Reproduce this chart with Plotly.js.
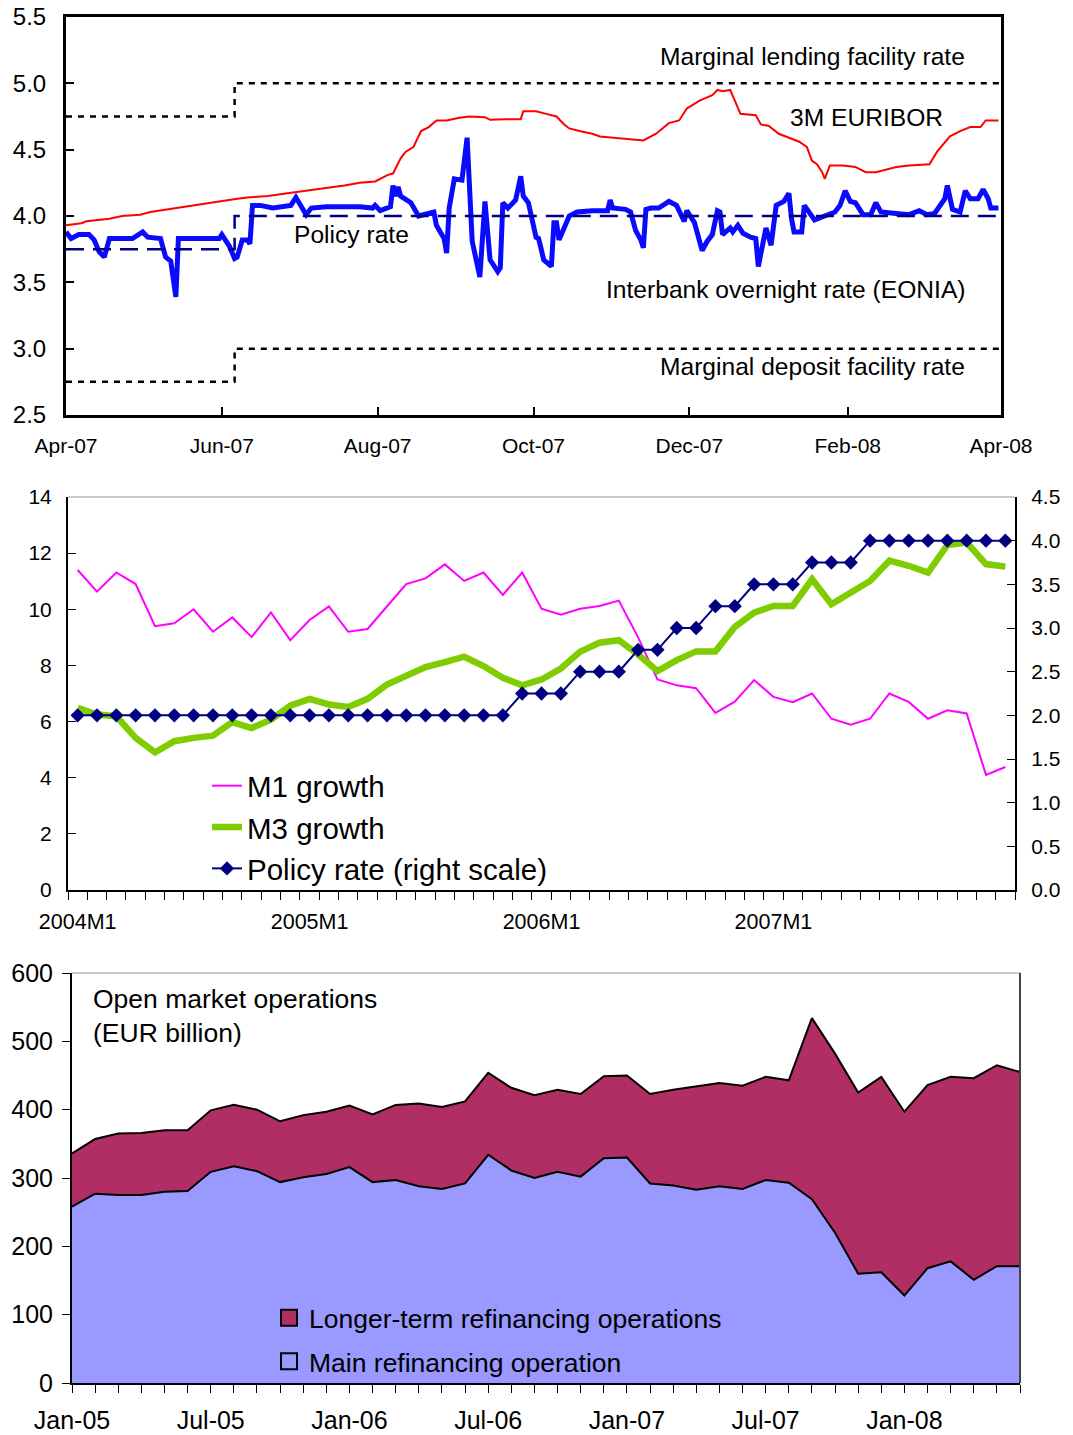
<!DOCTYPE html>
<html><head><meta charset="utf-8">
<script src="https://cdn.plot.ly/plotly-3.0.1.min.js"></script>
<style>html,body{margin:0;padding:0;background:#fff;} #chart{width:1073px;height:1435px;}</style>
</head><body><div id="chart"></div>
<script>
// ---------- Panel 1: daily rates Apr-07 .. Apr-08 ----------
const rateStepDates = ["2007-04-01", "2007-06-06", "2008-04-01"];
const marginalLending = [4.75, 5.00, 5.00];
const marginalDeposit = [2.75, 3.00, 3.00];
const policyRate = [3.75, 4.00, 4.00];

const euriborDates = ["2007-04-01","2007-04-07","2007-04-09","2007-04-13","2007-04-18","2007-04-23","2007-04-30","2007-05-04","2007-05-09","2007-05-14","2007-05-21","2007-05-27","2007-06-02","2007-06-07","2007-06-11","2007-06-19","2007-06-26","2007-07-03","2007-07-11","2007-07-19","2007-07-25","2007-07-31","2007-08-02","2007-08-05","2007-08-07","2007-08-10","2007-08-12","2007-08-15","2007-08-18","2007-08-21","2007-08-24","2007-08-28","2007-09-02","2007-09-06","2007-09-12","2007-09-14","2007-09-20","2007-09-26","2007-09-27","2007-10-02","2007-10-06","2007-10-10","2007-10-13","2007-10-15","2007-10-19","2007-10-24","2007-10-27","2007-11-01","2007-11-08","2007-11-13","2007-11-18","2007-11-23","2007-11-27","2007-11-30","2007-12-05","2007-12-10","2007-12-12","2007-12-14","2007-12-17","2007-12-20","2007-12-21","2007-12-27","2007-12-29","2008-01-01","2008-01-05","2008-01-09","2008-01-13","2008-01-16","2008-01-18","2008-01-20","2008-01-22","2008-01-23","2008-01-25","2008-01-30","2008-02-04","2008-02-08","2008-02-12","2008-02-20","2008-02-25","2008-03-04","2008-03-07","2008-03-12","2008-03-16","2008-03-20","2008-03-24","2008-03-26","2008-03-31"];
const euribor = [3.93,3.945,3.96,3.97,3.98,4.00,4.01,4.03,4.045,4.06,4.08,4.10,4.12,4.13,4.14,4.15,4.17,4.19,4.21,4.23,4.25,4.26,4.28,4.31,4.32,4.435,4.485,4.52,4.64,4.67,4.72,4.72,4.74,4.75,4.745,4.725,4.73,4.73,4.79,4.79,4.77,4.75,4.69,4.66,4.64,4.62,4.60,4.59,4.58,4.57,4.62,4.70,4.72,4.81,4.87,4.91,4.95,4.94,4.95,4.81,4.77,4.76,4.69,4.68,4.62,4.59,4.56,4.52,4.415,4.39,4.33,4.28,4.38,4.38,4.37,4.33,4.33,4.37,4.38,4.39,4.485,4.60,4.64,4.67,4.67,4.72,4.72];

const eoniaDates = ["2007-04-01","2007-04-03","2007-04-06","2007-04-10","2007-04-12","2007-04-14","2007-04-16","2007-04-18","2007-04-27","2007-05-01","2007-05-03","2007-05-08","2007-05-10","2007-05-12","2007-05-14","2007-05-15","2007-05-21","2007-05-31","2007-06-01","2007-06-04","2007-06-06","2007-06-07","2007-06-09","2007-06-11","2007-06-12","2007-06-13","2007-06-16","2007-06-21","2007-06-28","2007-06-30","2007-07-04","2007-07-06","2007-07-12","2007-07-25","2007-07-30","2007-07-31","2007-08-02","2007-08-06","2007-08-07","2007-08-08","2007-08-09","2007-08-10","2007-08-14","2007-08-17","2007-08-23","2007-08-24","2007-08-27","2007-08-28","2007-08-29","2007-08-31","2007-09-03","2007-09-05","2007-09-07","2007-09-10","2007-09-12","2007-09-14","2007-09-17","2007-09-18","2007-09-19","2007-09-21","2007-09-24","2007-09-26","2007-09-27","2007-09-29","2007-10-02","2007-10-03","2007-10-05","2007-10-08","2007-10-09","2007-10-10","2007-10-11","2007-10-15","2007-10-18","2007-10-24","2007-10-30","2007-10-31","2007-11-01","2007-11-06","2007-11-08","2007-11-10","2007-11-12","2007-11-13","2007-11-14","2007-11-16","2007-11-19","2007-11-23","2007-11-26","2007-11-29","2007-11-30","2007-12-03","2007-12-06","2007-12-08","2007-12-10","2007-12-12","2007-12-13","2007-12-14","2007-12-17","2007-12-18","2007-12-20","2007-12-22","2007-12-25","2007-12-27","2007-12-28","2007-12-31","2008-01-02","2008-01-04","2008-01-07","2008-01-09","2008-01-10","2008-01-11","2008-01-14","2008-01-15","2008-01-19","2008-01-23","2008-01-27","2008-01-29","2008-01-31","2008-02-02","2008-02-04","2008-02-07","2008-02-10","2008-02-12","2008-02-14","2008-02-19","2008-02-25","2008-02-29","2008-03-03","2008-03-06","2008-03-10","2008-03-11","2008-03-13","2008-03-16","2008-03-18","2008-03-20","2008-03-23","2008-03-25","2008-03-27","2008-03-28","2008-03-31"];
const eonia = [3.88,3.83,3.86,3.86,3.82,3.73,3.69,3.83,3.83,3.88,3.84,3.83,3.69,3.66,3.39,3.83,3.83,3.83,3.86,3.77,3.68,3.69,3.82,3.82,3.79,4.08,4.08,4.06,4.08,4.14,4.01,4.06,4.07,4.07,4.06,4.08,4.04,4.07,4.23,4.15,4.22,4.15,4.10,4.00,4.03,3.93,3.83,3.72,4.06,4.28,4.27,4.59,3.81,3.54,4.11,3.67,3.58,3.61,4.10,4.06,4.12,4.30,4.15,4.10,3.84,3.83,3.67,3.62,3.95,3.95,3.82,4.00,4.03,4.04,4.04,4.12,4.06,4.05,4.03,3.89,3.82,3.76,4.05,4.06,4.06,4.11,4.08,3.96,4.04,3.95,3.74,3.81,3.86,4.04,4.03,3.86,3.91,3.88,3.93,3.87,3.84,3.83,3.62,3.91,3.78,4.08,4.11,4.17,3.98,3.88,3.88,4.08,3.97,4.00,4.03,4.08,4.19,4.11,4.10,4.01,4.01,4.10,4.03,4.02,4.01,4.04,4.01,4.02,4.13,4.23,4.05,4.03,4.19,4.13,4.13,4.20,4.13,4.06,4.06];

// ---------- Panel 2: monthly money growth ----------
const months = ["2004M1","2004M2","2004M3","2004M4","2004M5","2004M6","2004M7","2004M8","2004M9","2004M10","2004M11","2004M12",
"2005M1","2005M2","2005M3","2005M4","2005M5","2005M6","2005M7","2005M8","2005M9","2005M10","2005M11","2005M12",
"2006M1","2006M2","2006M3","2006M4","2006M5","2006M6","2006M7","2006M8","2006M9","2006M10","2006M11","2006M12",
"2007M1","2007M2","2007M3","2007M4","2007M5","2007M6","2007M7","2007M8","2007M9","2007M10","2007M11","2007M12","2008M1"];
const monthTickLabels = ["2004M1","2005M1","2006M1","2007M1"];
const m1Growth = [11.40,10.63,11.31,10.90,9.40,9.50,10.00,9.20,9.71,9.01,9.89,8.90,9.62,10.10,9.20,9.30,10.10,10.90,11.10,11.60,11.01,11.31,10.51,11.31,10.02,9.81,10.02,10.12,10.31,9.00,7.50,7.29,7.19,6.31,6.71,7.48,6.88,6.69,7.00,6.10,5.89,6.10,7.00,6.70,6.10,6.40,6.29,4.10,4.38];
const m3Growth = [6.49,6.25,6.19,5.42,4.90,5.30,5.42,5.50,5.98,5.77,6.07,6.57,6.81,6.61,6.52,6.81,7.32,7.62,7.94,8.12,8.31,7.98,7.56,7.29,7.50,7.89,8.49,8.81,8.90,8.39,7.80,8.19,8.50,8.50,9.37,9.88,10.12,10.12,11.07,10.18,10.60,11.01,11.73,11.55,11.31,12.29,12.38,11.61,11.52];
const policyMonthly = [2.00,2.00,2.00,2.00,2.00,2.00,2.00,2.00,2.00,2.00,2.00,2.00,2.00,2.00,2.00,2.00,2.00,2.00,2.00,2.00,2.00,2.00,2.00,2.25,2.25,2.25,2.50,2.50,2.50,2.75,2.75,3.00,3.00,3.25,3.25,3.50,3.50,3.50,3.75,3.75,3.75,4.00,4.00,4.00,4.00,4.00,4.00,4.00,4.00];

// ---------- Panel 3: open market operations ----------
const omoMonths = ["Jan-05","Feb-05","Mar-05","Apr-05","May-05","Jun-05","Jul-05","Aug-05","Sep-05","Oct-05","Nov-05","Dec-05",
"Jan-06","Feb-06","Mar-06","Apr-06","May-06","Jun-06","Jul-06","Aug-06","Sep-06","Oct-06","Nov-06","Dec-06",
"Jan-07","Feb-07","Mar-07","Apr-07","May-07","Jun-07","Jul-07","Aug-07","Sep-07","Oct-07","Nov-07","Dec-07",
"Jan-08","Feb-08","Mar-08","Apr-08","May-08","Jun-08"];
const omoTickLabels = ["Jan-05","Jul-05","Jan-06","Jul-06","Jan-07","Jul-07","Jan-08"];
const mainRefi = [258,277,275,275,280,281,309,317,310,294,301,306,316,294,297,288,284,292,334,311,300,309,302,329,330,292,289,283,288,284,297,293,269,220,160,162,128,168,178,151,171,171];
const longerRefi = [78,80,90,91,90,89,90,90,90,89,91,91,90,99,110,121,120,120,120,121,121,120,121,120,120,131,140,151,151,151,151,150,265,262,265,286,269,268,270,295,294,284];

// ---------- layout helpers (pixel geometry) ----------
const W = 1073, H = 1435;
const fx = p => p / W;
const fy = p => 1 - p / H;
const FONT = "Arial, 'Liberation Sans', sans-serif";

const traces = [
  {x: rateStepDates, y: marginalLending, xaxis:'x', yaxis:'y', mode:'lines', line:{shape:'hv', color:'#000', width:2.5, dash:'6px,6px'}, showlegend:false},
  {x: rateStepDates, y: marginalDeposit, xaxis:'x', yaxis:'y', mode:'lines', line:{shape:'hv', color:'#000', width:2.5, dash:'6px,6px'}, showlegend:false},
  {x: euriborDates, y: euribor, xaxis:'x', yaxis:'y', mode:'lines', line:{color:'#FF0000', width:2}, showlegend:false},
  {x: eoniaDates, y: eonia, xaxis:'x', yaxis:'y', mode:'lines', line:{color:'#0A0AFF', width:5}, showlegend:false},
  {x: rateStepDates, y: policyRate, xaxis:'x', yaxis:'y', mode:'lines', line:{shape:'hv', color:'#000080', width:2.5, dash:'18px,9px'}, showlegend:false},

  {x: months, y: m1Growth, xaxis:'x2', yaxis:'y2', mode:'lines', name:'M1 growth', line:{color:'#FF00FF', width:2}, legend:'legend2'},
  {x: months, y: m3Growth, xaxis:'x2', yaxis:'y2', mode:'lines', name:'M3 growth', line:{color:'#7FCC00', width:6.5}, legend:'legend2'},
  {x: months, y: policyMonthly, xaxis:'x2', yaxis:'y3', mode:'lines+markers', name:'Policy rate (right scale)', line:{color:'#000080', width:2}, marker:{symbol:'diamond', size:11, color:'#000080'}, legend:'legend2'},

  {x: omoMonths, y: mainRefi, xaxis:'x3', yaxis:'y4', mode:'lines', stackgroup:'omo', line:{color:'#000', width:2}, fillcolor:'#9999FF', showlegend:false},
  {x: omoMonths, y: longerRefi, xaxis:'x3', yaxis:'y4', mode:'lines', stackgroup:'omo', line:{color:'#000', width:2}, fillcolor:'#B02E63', showlegend:false},
  {x: [null], y: [null], xaxis:'x3', yaxis:'y4', mode:'markers', name:'Longer-term refinancing operations', marker:{symbol:'square', size:16, color:'#B02E63', line:{color:'#000', width:2}}, legend:'legend3', legendgroup:'a'},
  {x: [null], y: [null], xaxis:'x3', yaxis:'y4', mode:'markers', name:'Main refinancing operation', marker:{symbol:'square', size:16, color:'#9999FF', line:{color:'#000', width:2}}, legend:'legend3', legendgroup:'b'}
];

const tickFont = s => ({family: FONT, size: s, color: '#000'});

const layout = {
  width: W, height: H,
  margin: {l:0, r:0, t:0, b:0},
  paper_bgcolor: '#fff', plot_bgcolor: 'rgba(0,0,0,0)',
  font: {family: FONT, color:'#000'},
  showlegend: true,
  // Panel 1
  xaxis: {domain:[fx(66), fx(1001)], anchor:'y', type:'date', range:['2007-04-01','2008-04-01'],
    tickmode:'linear', tick0:'2007-04-01', dtick:'M2', tickformat:'%b-%y',
    ticks:'inside', ticklen:8, tickwidth:2, tickcolor:'#000',
    showline:true, linewidth:3, linecolor:'#000', mirror:true, showgrid:false, zeroline:false,
    tickfont: tickFont(21), ticklabelstandoff: 10},
  yaxis: {domain:[fy(415), fy(17)], anchor:'x', range:[2.5,5.5], dtick:0.5, tick0:2.5, tickformat:'.1f',
    ticks:'inside', ticklen:8, tickwidth:2, tickcolor:'#000',
    showline:true, linewidth:3, linecolor:'#000', mirror:true, showgrid:false, zeroline:false,
    tickfont: tickFont(24), ticklabelstandoff: 12},
  // Panel 2
  xaxis2: {domain:[fx(68), fx(1015)], anchor:'y2', type:'category', categoryarray: months,
    range:[-0.5, 48.5], tickmode:'array', tickvals: months,
    ticktext: months.map(m => monthTickLabels.includes(m) ? m : ''), tickangle:0,
    tickson:'boundaries', ticks:'outside', ticklen:8, tickwidth:1, tickcolor:'#000',
    showline:true, linewidth:2, linecolor:'#000', showgrid:false, zeroline:false,
    tickfont: tickFont(21.5), ticklabelstandoff: 11},
  yaxis2: {domain:[fy(890), fy(497)], anchor:'x2', range:[0,14], dtick:2, tick0:0,
    ticks:'inside', ticklen:8, tickwidth:1, tickcolor:'#000',
    showline:true, linewidth:2, linecolor:'#000', showgrid:false, zeroline:false,
    tickfont: tickFont(21), ticklabelstandoff: 10},
  yaxis3: {overlaying:'y2', side:'right', anchor:'x2', range:[0,4.5], dtick:0.5, tick0:0, tickformat:'.1f',
    ticks:'inside', ticklen:8, tickwidth:1, tickcolor:'#000',
    showline:true, linewidth:2, linecolor:'#000', showgrid:false, zeroline:false,
    tickfont: tickFont(21), ticklabelstandoff: 10},
  // Panel 3
  xaxis3: {domain:[fx(72), fx(1020)], anchor:'y4', type:'category', categoryarray: omoMonths,
    range:[0, 41], tickmode:'array', tickvals: omoMonths,
    ticktext: omoMonths.map(m => omoTickLabels.includes(m) ? m : ''), tickangle:0,
    ticks:'outside', ticklen:8, tickwidth:1, tickcolor:'#000',
    showline:true, linewidth:2, linecolor:'#000', showgrid:false, zeroline:false,
    tickfont: tickFont(25), ticklabelstandoff: 6},
  yaxis4: {domain:[fy(1383), fy(973)], anchor:'x3', range:[0,600], dtick:100, tick0:0,
    ticks:'outside', ticklen:8, tickwidth:1, tickcolor:'#000',
    showline:true, linewidth:2, linecolor:'#000', showgrid:false, zeroline:false,
    tickfont: tickFont(25), ticklabelstandoff: 4},
  legend2: {x: fx(207), y: fy(760), xanchor:'left', yanchor:'top', bgcolor:'rgba(0,0,0,0)',
    font:{family:FONT, size:29.5, color:'#000'}, tracegroupgap:0},
  legend3: {x: fx(269), y: fy(1294), xanchor:'left', yanchor:'top', bgcolor:'rgba(0,0,0,0)',
    font:{family:FONT, size:26.5, color:'#000'}, traceorder:'grouped', tracegroupgap:6},
  shapes: [
    {type:'line', xref:'x2 domain', yref:'y2 domain', x0:0, x1:1, y0:1, y1:1, line:{color:'#999', width:1}},
    {type:'line', xref:'x3 domain', yref:'y4 domain', x0:0, x1:1, y0:1, y1:1, line:{color:'#999', width:1}},
    {type:'line', xref:'x3 domain', yref:'y4 domain', x0:1, x1:1, y0:0, y1:1, line:{color:'#444', width:2}}
  ],
  annotations: [
    {text:'Marginal lending facility rate', xref:'paper', yref:'paper', x:fx(658), y:fy(56), xanchor:'left', yanchor:'middle', showarrow:false, font:{family:FONT, size:24.6, color:'#000'}},
    {text:'3M EURIBOR', xref:'paper', yref:'paper', x:fx(788), y:fy(118), xanchor:'left', yanchor:'middle', showarrow:false, font:{family:FONT, size:24.6, color:'#000'}},
    {text:'Policy rate', xref:'paper', yref:'paper', x:fx(292), y:fy(235), xanchor:'left', yanchor:'middle', showarrow:false, font:{family:FONT, size:24.6, color:'#000'}},
    {text:'Interbank overnight rate (EONIA)', xref:'paper', yref:'paper', x:fx(604), y:fy(289), xanchor:'left', yanchor:'middle', showarrow:false, font:{family:FONT, size:24.6, color:'#000'}},
    {text:'Marginal deposit facility rate', xref:'paper', yref:'paper', x:fx(658), y:fy(366), xanchor:'left', yanchor:'middle', showarrow:false, font:{family:FONT, size:24.6, color:'#000'}},
    {text:'Open market operations<br>(EUR billion)', xref:'paper', yref:'paper', x:fx(91), y:fy(982), xanchor:'left', yanchor:'top', align:'left', showarrow:false, font:{family:FONT, size:26.5, color:'#000'}}
  ]
};

Plotly.newPlot('chart', traces, layout, {staticPlot:true, displayModeBar:false});
</script></body></html>
